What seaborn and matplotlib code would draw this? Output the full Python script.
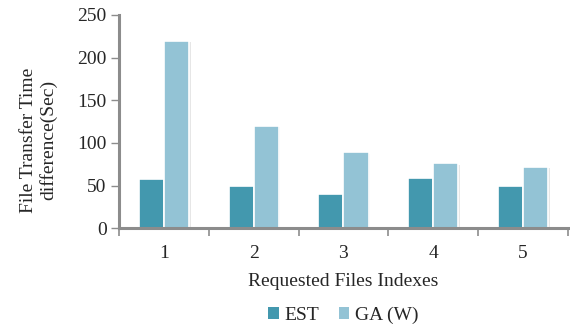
import matplotlib
matplotlib.use("Agg")
import matplotlib.pyplot as plt
import matplotlib.patheffects as pe
import seaborn as sns
import pandas as pd
import numpy as np

categories = ["1", "2", "3", "4", "5"]
est_values = [58, 49, 40, 59, 49]
ga_values = [220, 120, 89, 76, 72]
series_names = ["EST", "GA (W)"]
colors = ["#4398AE", "#93C3D5"]

df = pd.DataFrame({
    "idx": categories * 2,
    "value": est_values + ga_values,
    "series": [series_names[0]] * len(categories) + [series_names[1]] * len(categories),
})

sns.set_style("white")
plt.rcParams["font.family"] = ["Liberation Serif", "DejaVu Serif"]

fig = plt.figure(figsize=(5.7, 3.25), dpi=100)
ax = fig.add_axes([0.209, 0.298, 0.787, 0.656])

sns.barplot(data=df, x="idx", y="value", hue="series", palette=colors, saturation=1,
            width=0.56, edgecolor="white", linewidth=1.2, ax=ax, legend=True)

for p in ax.patches:
    p.set_path_effects([pe.SimplePatchShadow(offset=(1.2, -1.2), alpha=0.18, shadow_rgbFace="#777777"), pe.Normal()])

ax.set_ylim(0, 250)
ax.set_yticks([0, 50, 100, 150, 200, 250])
ax.set_xlim(-0.5, 4.5)
ax.set_xlabel("Requested Files Indexes", fontsize=14, labelpad=8)
ax.set_ylabel("File Transfer Time\ndifference(Sec)", fontsize=14)
ax.yaxis.set_label_coords(-0.137, 0.413)

for s in ["top", "right"]:
    ax.spines[s].set_visible(False)
for s in ["left", "bottom"]:
    ax.spines[s].set_color("#8C8C8C")
    ax.spines[s].set_linewidth(2.2)

ax.tick_params(axis="y", which="major", left=True, direction="out", length=6, width=1,
               color="#8C8C8C", labelsize=14, pad=3)
ax.tick_params(axis="x", which="major", bottom=False, length=0, labelsize=14, pad=12)
ax.set_xticks(np.arange(-0.5, 5.0, 1.0), minor=True)
ax.tick_params(axis="x", which="minor", bottom=True, direction="out", length=6, width=1.2,
               color="#8C8C8C")

leg = ax.legend(loc="upper center", bbox_to_anchor=(0.5, -0.285), ncol=2, frameon=False,
                fontsize=14, handlelength=0.55, handleheight=0.55, handletextpad=0.3,
                columnspacing=1.0)
for h in leg.legend_handles:
    h.set_edgecolor("none")
    h.set_path_effects([])

fig.savefig("out.png", dpi=100)
